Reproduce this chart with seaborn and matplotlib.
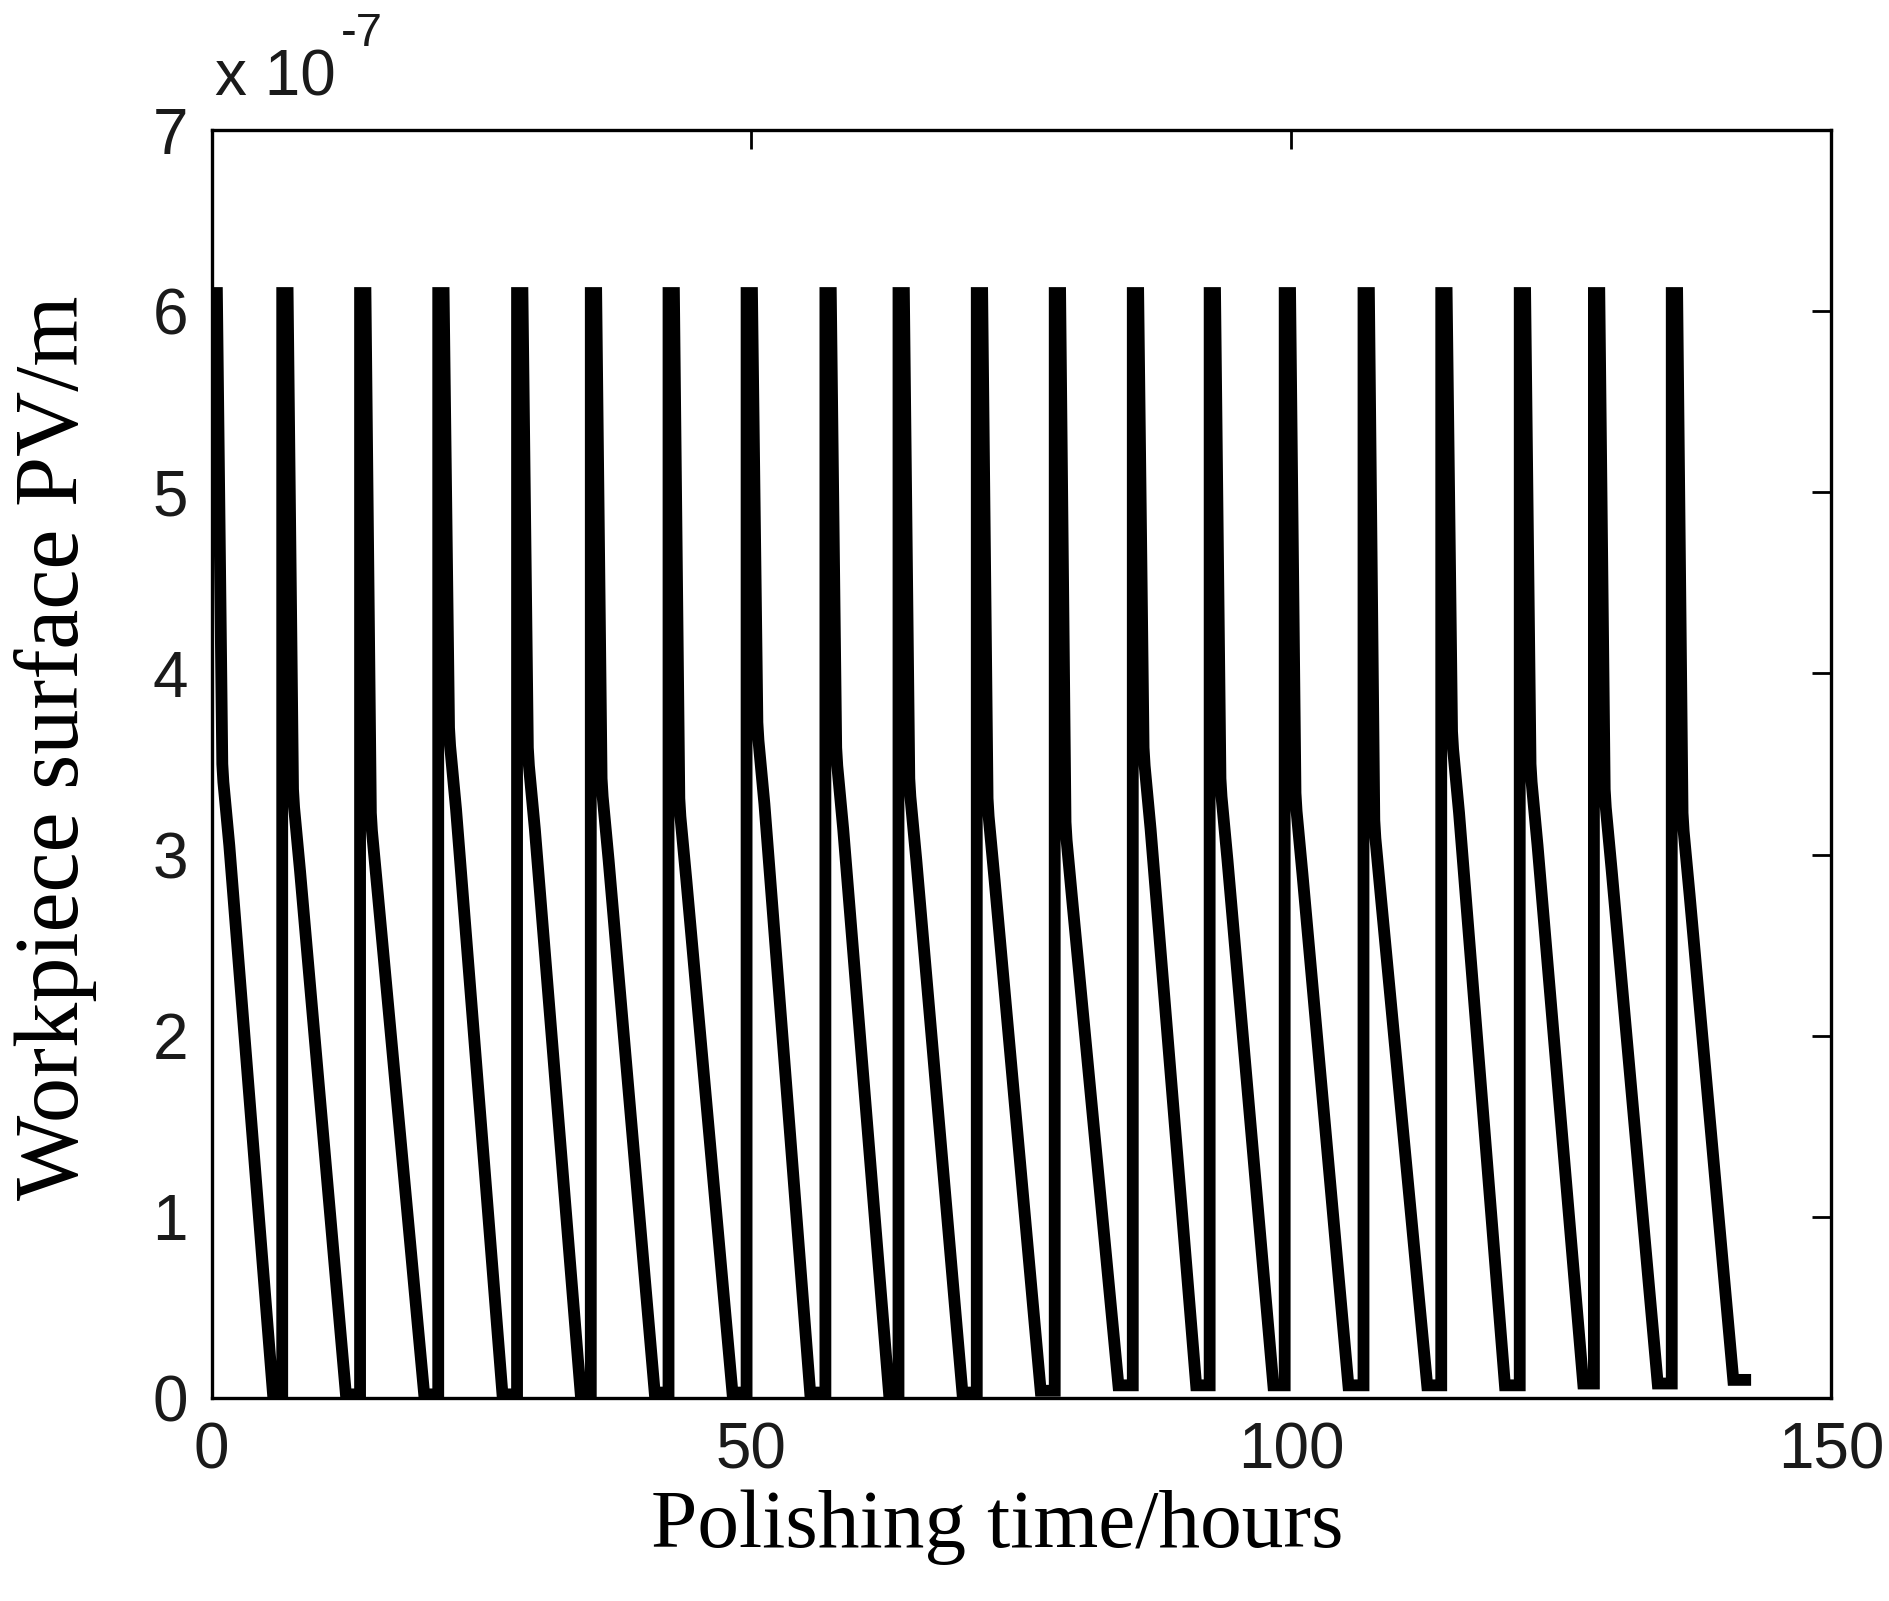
import numpy as np
import pandas as pd
import matplotlib
matplotlib.use("Agg")
import matplotlib.pyplot as plt
import seaborn as sns

# ---- data (time in hours, PV in units of 1e-7 m) ----
rise_t = [0.0, 6.55, 13.76, 21.0, 28.3, 35.13, 42.33, 49.56, 56.86, 63.63,
          70.88, 78.1, 85.33, 92.45, 99.4, 106.7, 113.9, 121.17, 128.04, 135.25]
bottom_t = [5.7, 12.45, 19.7, 26.95, 34.2, 41.05, 48.25, 55.45, 62.75, 69.55,
            76.8, 84.0, 91.2, 98.35, 105.3, 112.6, 119.8, 127.05, 133.95, 140.95]
peak_v = [6.1] * 20
knee_v = [3.40, 3.26, 3.13, 3.60, 3.49, 3.32, 3.21, 3.63, 3.49, 3.32,
          3.21, 3.08, 3.49, 3.32, 3.24, 3.09, 3.58, 3.40, 3.26, 3.13]
trough_v = [0.02, 0.02, 0.02, 0.02, 0.02, 0.03, 0.03, 0.03, 0.03, 0.03,
            0.04, 0.07, 0.07, 0.07, 0.07, 0.07, 0.07, 0.08, 0.08, 0.10]
end_t = 142.6
# shape of each tooth right after the rise: hours after rise / offset from knee
tooth_dt = [0.0, 0.5, 1.0, 1.1, 1.65]
tooth_knee_off = [0.1, 0.0, -0.35]

x_ticks = [0, 50, 100, 150]
y_ticks = [0, 1, 2, 3, 4, 5, 6, 7]

# ---- build the polyline ----
xs, ys = [], []
n = len(rise_t)
for i in range(n):
    t0 = rise_t[i]
    if i > 0:
        xs.append(t0); ys.append(trough_v[i - 1])
    xs += [t0 + d for d in tooth_dt] + [bottom_t[i]]
    ys += [peak_v[i], peak_v[i]] + [knee_v[i] + o for o in tooth_knee_off] + [trough_v[i]]
    t_next = rise_t[i + 1] if i + 1 < n else end_t
    xs.append(t_next); ys.append(trough_v[i])

df = pd.DataFrame({"t": xs, "pv": ys})

sns.set_style("white")
plt.rcParams["font.family"] = ["Liberation Sans", "DejaVu Sans"]

fig = plt.figure(figsize=(18.89, 16.01), dpi=100)
ax = fig.add_axes([211.5 / 1889, 1 - 1398 / 1601, (1831 - 211.5) / 1889, (1398 - 130) / 1601])

sns.lineplot(data=df, x="t", y="pv", sort=False, estimator=None, color="black",
             linewidth=8.5, ax=ax)
for ln in ax.get_lines():
    ln.set_solid_joinstyle("miter")
    ln.set_solid_capstyle("butt")

ax.set_xlim(0, 150)
ax.set_ylim(0, 7)
ax.set_xticks(x_ticks)
ax.set_yticks(y_ticks)
ax.set_xticklabels([str(v) for v in x_ticks])
ax.set_yticklabels([str(v) for v in y_ticks])

for s in ax.spines.values():
    s.set_visible(True)
    s.set_color("black")
    s.set_linewidth(2.4)

ax.tick_params(axis="both", direction="in", length=14, width=2, color="black",
               top=True, right=True, labelsize=46, labelcolor="#1a1a1a")
ax.tick_params(axis="x", pad=17)
ax.tick_params(axis="y", pad=17)

ax.set_xlabel("Polishing time/hours", family=["Liberation Serif", "DejaVu Serif"],
              fontsize=60, color="black")
ax.set_ylabel("Workpiece surface PV/m", family=["Liberation Serif", "DejaVu Serif"],
              fontsize=65, color="black")
ax.xaxis.set_label_coords(0.485, -0.072)
ax.yaxis.set_label_coords(-0.071, 0.513)

ax.text(0.002, 1.0276, "x 10", transform=ax.transAxes,
        ha="left", va="baseline", fontsize=46, color="#1a1a1a")
ax.text(0.080, 1.066, "-7", transform=ax.transAxes,
        ha="left", va="baseline", fontsize=34, color="#1a1a1a")

fig.savefig("out.png", dpi=100, facecolor="white")
